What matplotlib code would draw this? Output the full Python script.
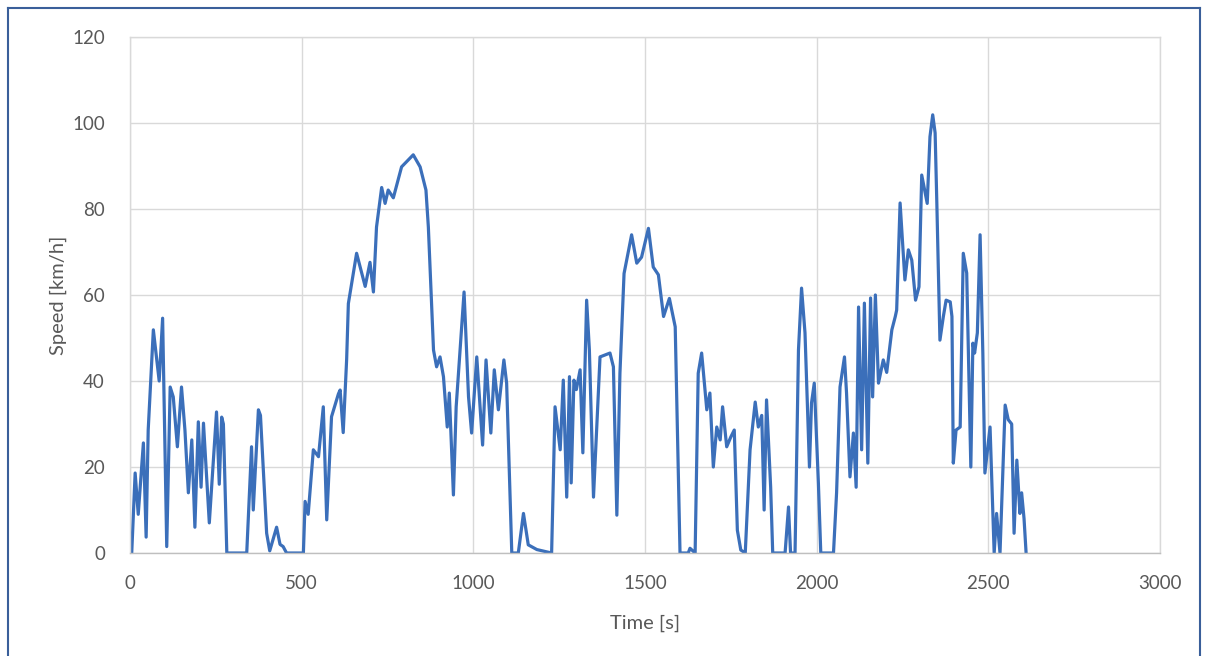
import matplotlib
matplotlib.use("Agg")
import matplotlib.pyplot as plt
from matplotlib.lines import Line2D

# drive cycle: time [s], speed [km/h]
time_s = [0, 5, 15, 24, 39, 47, 53, 68, 85, 95, 107, 117, 126, 138, 150, 160, 170, 180, 189, 199,
          207, 214, 231, 252, 260, 267, 272, 282, 340, 354, 359, 374, 380, 398, 407, 427, 437, 446, 456, 505,
          510, 519, 534, 549, 563, 573, 587, 607, 612, 621, 631, 636, 660, 685, 699, 709, 718, 733, 743, 752,
          767, 791, 825, 845, 862, 869, 884, 893, 903, 913, 924, 930, 942, 950, 956, 973, 986, 995, 1010, 1027,
          1037, 1051, 1061, 1073, 1089, 1097, 1112, 1131, 1146, 1160, 1185, 1228, 1238, 1253, 1262, 1272, 1280, 1285, 1293, 1300,
          1311, 1319, 1330, 1338, 1350, 1369, 1398, 1408, 1418, 1427, 1439, 1461, 1476, 1490, 1510, 1524, 1539, 1554, 1571, 1588,
          1602, 1626, 1631, 1646, 1655, 1665, 1680, 1689, 1699, 1709, 1719, 1726, 1738, 1750, 1760, 1769, 1779, 1792, 1806, 1821,
          1830, 1840, 1847, 1854, 1866, 1872, 1908, 1918, 1924, 1937, 1947, 1956, 1966, 1979, 1985, 1993, 2005, 2012, 2049, 2058,
          2068, 2081, 2087, 2097, 2107, 2115, 2122, 2131, 2139, 2149, 2157, 2163, 2171, 2180, 2194, 2204, 2219, 2229, 2233, 2243,
          2257, 2267, 2277, 2288, 2298, 2306, 2316, 2322, 2330, 2338, 2345, 2350, 2359, 2369, 2377, 2389, 2394, 2398, 2406, 2418,
          2427, 2437, 2449, 2455, 2460, 2468, 2476, 2484, 2490, 2505, 2517, 2524, 2534, 2549, 2558, 2568, 2575, 2583, 2592, 2597,
          2604, 2610]
speed_kmh = [0, 0, 18.6, 9, 25.6, 3.7, 28.6, 51.9, 40, 54.6, 1.5, 38.6, 36.3, 24.7, 38.6, 28.6, 14, 26.3, 6, 30.5,
             15.3, 30.2, 7, 32.8, 16, 31.6, 30, 0, 0, 24.7, 10, 33.3, 32, 4.6, 0.5, 6, 2, 1.5, 0, 0,
             12, 9, 24, 22.4, 34, 7.7, 31.7, 37, 37.9, 28, 45, 58, 69.7, 62, 67.6, 60.7, 75.8, 85, 81.3, 84.4,
             82.6, 89.8, 92.6, 89.8, 84.4, 75.8, 47.2, 43.3, 45.6, 41, 29.3, 37.2, 13.5, 34, 41, 60.7, 36.3, 27.9, 45.6, 25.1,
             44.9, 27.9, 42.6, 33.3, 44.9, 39.5, 0, 0, 9.2, 1.9, 0.8, 0, 34, 24, 40.2, 13, 41, 16.3, 40.2, 38,
             42.6, 23.3, 58.8, 47.2, 13, 45.6, 46.5, 43.3, 8.8, 41.8, 65, 74, 67.4, 68.8, 75.5, 66.5, 64.7, 55, 59.2, 52.6,
             0, 0, 1.1, 0, 41.8, 46.5, 33.3, 37.2, 20, 29.3, 26.3, 34, 24.7, 27, 28.6, 5.3, 0.7, 0, 24, 35.1,
             29.3, 32, 10, 35.6, 15.3, 0, 0, 10.7, 0, 0, 47.2, 61.6, 51.2, 20, 34.9, 39.5, 16.3, 0, 0, 14,
             38.6, 45.6, 37.2, 17.7, 27.9, 15.3, 57.2, 24, 58.1, 20.9, 59.3, 36.3, 60, 39.5, 44.9, 42, 51.9, 55, 56.5, 81.4,
             63.5, 70.5, 68.1, 58.8, 61.9, 87.9, 83.7, 81.3, 96.8, 101.9, 97.7, 81.4, 49.5, 55, 58.8, 58.4, 55, 20.9, 28.6, 29.3,
             69.7, 65.1, 20, 48.8, 46.5, 51.2, 74, 46.5, 18.6, 29.3, 0, 9.2, 0, 34.4, 31, 30, 4.6, 21.6, 9.2, 14,
             8, 0]

x_ticks = [0, 500, 1000, 1500, 2000, 2500, 3000]
y_ticks = [0, 20, 40, 60, 80, 100, 120]

plt.rcParams['font.family'] = ['Lato', 'DejaVu Sans']
txt = '#595959'
grid_c = '#d9d9d9'

fig = plt.figure(figsize=(12.08, 6.56), dpi=100)
ax = fig.add_axes([130 / 1208, 1 - 553 / 656, 1030 / 1208, 516 / 656])

ax.plot(time_s, speed_kmh, color='#3b6fba', lw=2.3, solid_joinstyle='round')

ax.set_xlim(0, 3000)
ax.set_ylim(0, 120)
ax.set_xticks(x_ticks)
ax.set_yticks(y_ticks)
ax.grid(True, color=grid_c, lw=1)
ax.set_axisbelow(True)
for s in ax.spines.values():
    s.set_color(grid_c)
    s.set_linewidth(1)
ax.spines['bottom'].set_color('#bfbfbf')
ax.tick_params(length=0, labelsize=13.5, labelcolor=txt)
ax.tick_params(axis='x', pad=16)
ax.tick_params(axis='y', pad=18)
ax.set_xlabel('Time [s]', fontsize=14.5, color=txt, labelpad=16)
ax.set_ylabel('Speed [km/h]', fontsize=14.5, color=txt, labelpad=4)

# dark blue frame around the picture
frame = dict(color='#3a5f9a', lw=1.5, transform=fig.transFigure)
l, r, t = 8 / 1208, 1200 / 1208, 1 - 8 / 656
fig.add_artist(Line2D([l, l], [0, t], **frame))
fig.add_artist(Line2D([l, r], [t, t], **frame))
fig.add_artist(Line2D([r, r], [0, t], **frame))

fig.savefig('out.png', dpi=100)
